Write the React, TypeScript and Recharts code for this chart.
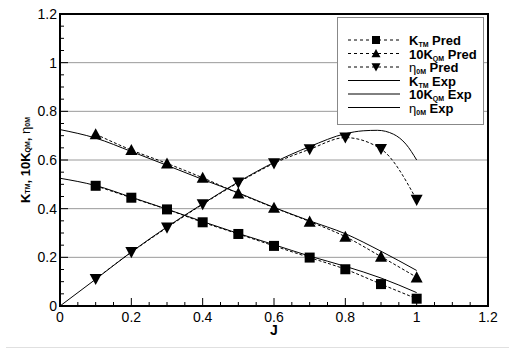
import React from "react";
import { LineChart, Line, XAxis, YAxis, CartesianGrid, ReferenceArea } from "recharts";

const predJ = [0.1, 0.2, 0.3, 0.4, 0.5, 0.6, 0.7, 0.8, 0.9, 1.0];
const ktmPred = [0.494, 0.445, 0.397, 0.344, 0.296, 0.247, 0.199, 0.151, 0.09, 0.03];
const kqmPred = [0.706, 0.641, 0.586, 0.527, 0.463, 0.404, 0.347, 0.285, 0.203, 0.118];
const etaPred = [0.111, 0.221, 0.322, 0.418, 0.507, 0.586, 0.644, 0.692, 0.645, 0.436];

const expJ = [0, 0.1, 0.2, 0.3, 0.4, 0.5, 0.6, 0.7, 0.8, 0.9, 1.0];
const ktmExp = [0.525, 0.495, 0.447, 0.398, 0.347, 0.298, 0.252, 0.205, 0.163, 0.115, 0.055];
const kqmExp = [0.725, 0.69, 0.635, 0.578, 0.52, 0.465, 0.405, 0.35, 0.297, 0.225, 0.146];

const etaExpJ = [0, 0.1, 0.2, 0.3, 0.4, 0.5, 0.6, 0.7, 0.8, 0.85, 0.89, 0.935, 0.97, 1.0];
const etaExp = [0, 0.11, 0.222, 0.325, 0.42, 0.51, 0.59, 0.655, 0.708, 0.72, 0.722, 0.706, 0.665, 0.6];

const xTicks = [0, 0.2, 0.4, 0.6, 0.8, 1, 1.2];
const yTicks = [0, 0.2, 0.4, 0.6, 0.8, 1, 1.2];

const minorStep = 0.05;
const xTickAll = Array.from({ length: 25 }, (_, i) => Math.round(i * minorStep * 100) / 100);
const yTickAll = xTickAll;

const toPts = (xs: number[], ys: number[]) => xs.map((x, i) => ({ J: x, v: ys[i] }));

const FONT = "'Liberation Sans', Arial, Helvetica, sans-serif";

const isMajor = (v: number) => xTicks.some((t) => Math.abs(t - v) < 1e-6);

const XTick = (props: any) => {
  const { x, y, payload } = props;
  const major = isMajor(payload.value);
  return (
    <g>
      <line x1={x} y1={y} x2={x} y2={y - (major ? 8 : 4)} stroke="#000" strokeWidth={1} />
      {major && (
        <text x={x} y={y + 16} textAnchor="middle" fontSize={14} fontFamily={FONT} fill="#000">
          {String(payload.value)}
        </text>
      )}
    </g>
  );
};

const YTick = (props: any) => {
  const { x, y, payload } = props;
  const major = isMajor(payload.value);
  return (
    <g>
      <line x1={x} y1={y} x2={x + (major ? 8 : 4)} y2={y} stroke="#000" strokeWidth={1} />
      {major && (
        <text x={x - 3} y={y + 5} textAnchor="end" fontSize={14} fontFamily={FONT} fill="#000">
          {String(payload.value)}
        </text>
      )}
    </g>
  );
};

const Square = (props: any) => {
  const { cx, cy, s = 5 } = props;
  if (cx == null || cy == null) return null;
  return <rect x={cx - s} y={cy - s} width={2 * s} height={2 * s} fill="#000" />;
};
const TriUp = (props: any) => {
  const { cx, cy, s = 6 } = props;
  if (cx == null || cy == null) return null;
  return <path d={`M${cx},${cy - s} L${cx + s},${cy + s * 0.85} L${cx - s},${cy + s * 0.85} Z`} fill="#000" />;
};
const TriDown = (props: any) => {
  const { cx, cy, s = 6 } = props;
  if (cx == null || cy == null) return null;
  return <path d={`M${cx - s},${cy - s * 0.85} L${cx + s},${cy - s * 0.85} L${cx},${cy + s} Z`} fill="#000" />;
};

const legendRows = [
  { base: "K", sub: "TM", rest: " Pred", dashed: true, marker: "sq", eta: false },
  { base: "10K", sub: "QM", rest: " Pred", dashed: true, marker: "up", eta: false },
  { base: "η", sub: "0M", rest: " Pred", dashed: true, marker: "down", eta: true },
  { base: "K", sub: "TM", rest: " Exp", dashed: false, marker: "", eta: false },
  { base: "10K", sub: "QM", rest: " Exp", dashed: false, marker: "", eta: false },
  { base: "η", sub: "0M", rest: " Exp", dashed: false, marker: "", eta: true },
];

const LegendBox = () => {
  const rowY = [23, 36.5, 50, 63.5, 77, 90.5];
  return (
    <svg width={147} height={108} style={{ display: "block" }}>
      <rect x={0.5} y={0.5} width={146} height={107} fill="#fff" stroke="#888" strokeWidth={1} />
      {legendRows.map((r, i) => {
        const y = rowY[i];
        const cx = 39;
        return (
          <g key={i}>
            <line x1={11} y1={y} x2={63} y2={y} stroke="#000" strokeWidth={1} strokeDasharray={r.dashed ? "3 3" : undefined} />
            {r.marker === "sq" && <Square cx={cx} cy={y} s={4} />}
            {r.marker === "up" && <TriUp cx={cx} cy={y} s={4.5} />}
            {r.marker === "down" && <TriDown cx={cx} cy={y} s={4.5} />}
            <text x={72} y={y + 5} fontFamily={FONT} fontSize={13} fontWeight="bold" fill="#000">
              <tspan fontWeight={r.eta ? "normal" : "bold"}>{r.base}</tspan>
              <tspan fontSize={7} dy={2}>{r.sub}</tspan>
              <tspan dy={-2}>{r.rest}</tspan>
            </text>
          </g>
        );
      })}
    </svg>
  );
};

export default function App() {
  return (
    <div style={{ position: "absolute", left: 0, top: 0, width: 512, height: 354, background: "#fff" }}>
      <LineChart width={512} height={354} margin={{ top: 14, right: 24, left: 0, bottom: 18 }}>
        <CartesianGrid horizontal={true} vertical={false} horizontalValues={yTicks} stroke="#9a9a9a" strokeWidth={1} />
        <XAxis
          type="number"
          dataKey="J"
          domain={[0, 1.2]}
          ticks={xTickAll}
          interval={0}
          tickLine={false}
          tickSize={0}
          tickMargin={0}
          height={30}
          axisLine={{ stroke: "#000", strokeWidth: 2 }}
          tick={<XTick />}
          allowDuplicatedCategory={false}
          label={{ value: "J", position: "insideBottom", offset: 0, dy: -1, fontSize: 14, fontWeight: "bold", fill: "#000", fontFamily: FONT }}
        />
        <YAxis
          type="number"
          domain={[0, 1.2]}
          ticks={yTickAll}
          interval={0}
          tickLine={false}
          tickSize={0}
          tickMargin={0}
          width={60}
          axisLine={{ stroke: "#000", strokeWidth: 2 }}
          tick={<YTick />}
          label={(props: any) => {
            const vb = props.viewBox || {};
            const cx = 25;
            const cy = (vb.y ?? 14) + (vb.height ?? 292) / 2;
            return (
              <text x={cx} y={cy} transform={`rotate(-90 ${cx} ${cy})`} textAnchor="middle" dominantBaseline="central" fontFamily={FONT} fontSize={13} fontWeight="bold" fill="#000">
                <tspan>K</tspan>
                <tspan fontSize={7} dy={2}>TM</tspan>
                <tspan dy={-2}>, 10K</tspan>
                <tspan fontSize={7} dy={2}>QM</tspan>
                <tspan dy={-2}>, </tspan>
                <tspan fontWeight="normal">η</tspan>
                <tspan fontSize={7} dy={2}>0M</tspan>
              </text>
            );
          }}
        />
        <ReferenceArea x1={0} x2={1.2} y1={0} y2={1.2} fill="none" stroke="#000" strokeWidth={2} ifOverflow="visible" />
        <Line data={toPts(expJ, ktmExp)} dataKey="v" type="monotone" stroke="#000" strokeWidth={1} dot={false} isAnimationActive={false} />
        <Line data={toPts(expJ, kqmExp)} dataKey="v" type="monotone" stroke="#000" strokeWidth={1} dot={false} isAnimationActive={false} />
        <Line data={toPts(etaExpJ, etaExp)} dataKey="v" type="monotone" stroke="#000" strokeWidth={1} dot={false} isAnimationActive={false} />
        <Line data={toPts(predJ, ktmPred)} dataKey="v" type="monotone" stroke="#000" strokeWidth={1} strokeDasharray="3 2" dot={<Square />} isAnimationActive={false} />
        <Line data={toPts(predJ, kqmPred)} dataKey="v" type="monotone" stroke="#000" strokeWidth={1} strokeDasharray="3 2" dot={<TriUp />} isAnimationActive={false} />
        <Line data={toPts(predJ, etaPred)} dataKey="v" type="monotone" stroke="#000" strokeWidth={1} strokeDasharray="3 2" dot={<TriDown />} isAnimationActive={false} />
      </LineChart>
      <div style={{ position: "absolute", left: 337, top: 17, width: 147, height: 108 }}>
        <LegendBox />
      </div>
      <div style={{ position: "absolute", left: 6, top: 347, width: 503, height: 0, borderTop: "1px solid #e0e0e0" }} />
    </div>
  );
}
